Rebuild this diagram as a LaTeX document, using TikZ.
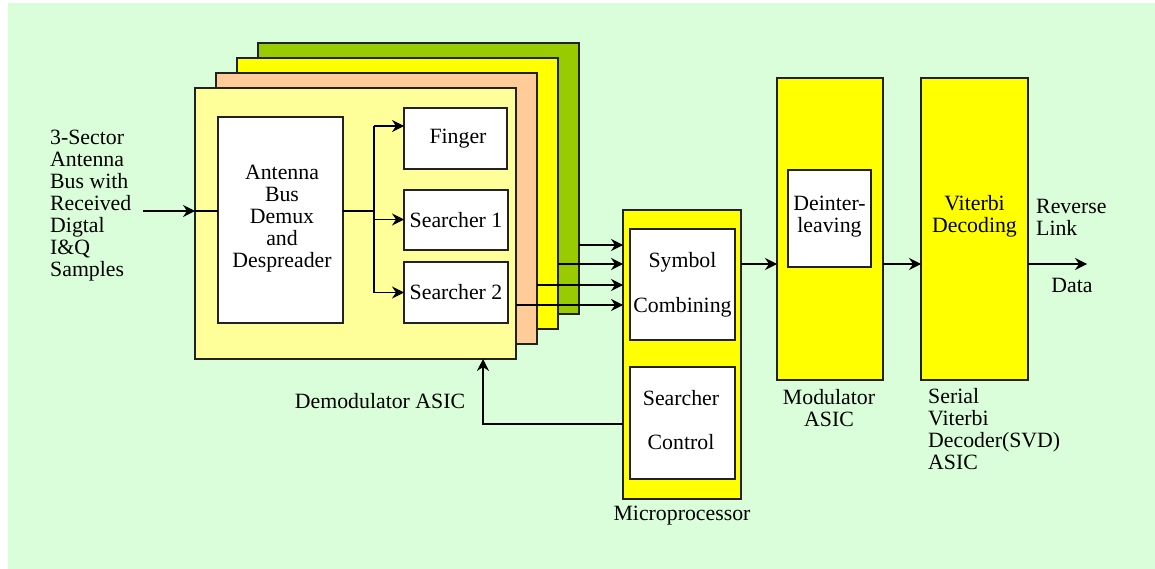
\documentclass[tikz,border=0pt]{standalone}
\usepackage{fontspec}
\setmainfont{Liberation Serif}
\newfontfamily\tnr{Liberation Serif}
\usetikzlibrary{arrows.meta}
\definecolor{bgc}{HTML}{D9FED9}
\definecolor{cgreen}{HTML}{99CC00}
\definecolor{cyellow}{HTML}{FFFF00}
\definecolor{cpeach}{HTML}{FFCC99}
\definecolor{cfront}{HTML}{FFFF99}
\definecolor{edge}{HTML}{222222}
\tikzset{
  blk/.style={draw=edge, line width=1.2pt, inner sep=0pt, outer sep=0pt, rectangle},
  card/.style={blk, minimum width=321pt, minimum height=271pt},
  wbox/.style={blk, fill=white},
  lbl/.style={inner sep=0pt, align=center, font=\tnr\fontsize{21.8}{22}\selectfont},
  wire/.style={line width=1.2pt, draw=black},
  arr/.style={wire, -{Stealth[length=12pt,width=12pt,inset=4pt]}}
}
\begin{document}
\begin{tikzpicture}[x=1pt,y=-1pt]
\useasboundingbox (0,0) rectangle (1155,569);
\fill[bgc] (8,3) rectangle (1155,569);
% stacked cards
\node[card, fill=cgreen,  anchor=north west] (c4) at (258,43) {};
\node[card, fill=cyellow, anchor=north west] (c3) at (237,58) {};
\node[card, fill=cpeach,  anchor=north west] (c2) at (216,73) {};
\node[card, fill=cfront,  anchor=north west] (c1) at (195,88) {};
% inner boxes
\node[wbox, minimum width=125pt, minimum height=206pt] (ant) at (280.5,220) {};
\node[lbl] at (282,219) {Antenna\\Bus\\Demux\\and\\Despreader};
\node[wbox, minimum width=103pt, minimum height=61pt] (fin) at (455.5,138.5) {};
\node[lbl] at (458,139) {Finger};
\node[wbox, minimum width=104pt, minimum height=60pt] (s1) at (456,220) {};
\node[lbl] at (456,220) {Searcher 1};
\node[wbox, minimum width=104pt, minimum height=61pt] (s2) at (456,292.5) {};
\node[lbl] at (456,292.5) {Searcher 2};
% microprocessor
\node[blk, fill=cyellow, minimum width=118pt, minimum height=289pt] (mp) at (682,354.5) {};
\node[wbox, minimum width=105pt, minimum height=111pt] (sc) at (682.5,284.5) {};
\node[lbl] at (682.5,284.5) {Symbol\\[23pt]Combining};
\node[wbox, minimum width=105pt, minimum height=112pt] (sctl) at (682.5,423) {};
\node[lbl] at (681,420) {Searcher\\[22pt]Control};
% modulator
\node[blk, fill=cyellow, minimum width=106pt, minimum height=302pt] (mod) at (830,229) {};
\node[wbox, minimum width=83pt, minimum height=97pt] (dei) at (829.5,218.5) {};
\node[lbl] at (829.5,216.5) {Deinter-\\leaving};
% viterbi
\node[blk, fill=cyellow, minimum width=107pt, minimum height=302pt] (vit) at (974.5,229) {};
\node[lbl] at (974.5,216) {Viterbi\\Decoding};
% labels
\node[lbl, anchor=west, align=left] at (50,205.5) {3-Sector\\Antenna\\Bus with\\Received\\Digtal\\I\&Q\\Samples};
\node[lbl] at (380,401) {Demodulator ASIC};
\node[lbl] at (682,516) {Microprocessor};
\node[lbl] at (829,408) {Modulator\\ASIC};
\node[lbl, anchor=west, align=left] at (928,429) {Serial\\Viterbi\\Decoder(SVD)\\ASIC};
\node[lbl, anchor=west, align=left] at (1036,217) {Reverse\\Link};
\node[lbl] at (1072,285) {Data};
% connectors
\coordinate (in0) at (143,211);
\coordinate (br) at (374,211);
\coordinate (bt) at (374,126);
\coordinate (bb) at (374,292.5);
\coordinate (s1in) at (374,219.5);
\draw[arr] (in0) -- (in0 -| c1.west);
\draw[wire] (in0 -| c1.west) -- (in0 -| ant.west);
\draw[wire] (in0 -| ant.east) -- (br);
\draw[wire] (bt) -- (bb);
\draw[arr] (bt) -- (bt -| fin.west);
\draw[arr] (s1in) -- (s1in -| s1.west);
\draw[arr] (bb) -- (bb -| s2.west);
% outputs to symbol combining
\coordinate (o4) at (579,245);
\coordinate (o3) at (558,264);
\coordinate (o2) at (537,285);
\coordinate (o1) at (516,305);
\draw[arr] (o4) -- (o4 -| mp.west);
\draw[arr] (o3) -- (o3 -| mp.west);
\draw[arr] (o2) -- (o2 -| mp.west);
\draw[arr] (o1) -- (o1 -| mp.west);
% chain
\coordinate (ch) at (741,264);
\draw[arr] (ch -| mp.east) -- (ch -| mod.west);
\draw[arr] (ch -| mod.east) -- (ch -| vit.west);
\coordinate (dout) at (1087,264);
\draw[arr] (ch -| vit.east) -- (dout);
% feedback
\coordinate (fb) at (483,424);
\draw[arr] (fb -| mp.west) -- (fb) -- (fb |- c1.south);
\end{tikzpicture}
\end{document}
